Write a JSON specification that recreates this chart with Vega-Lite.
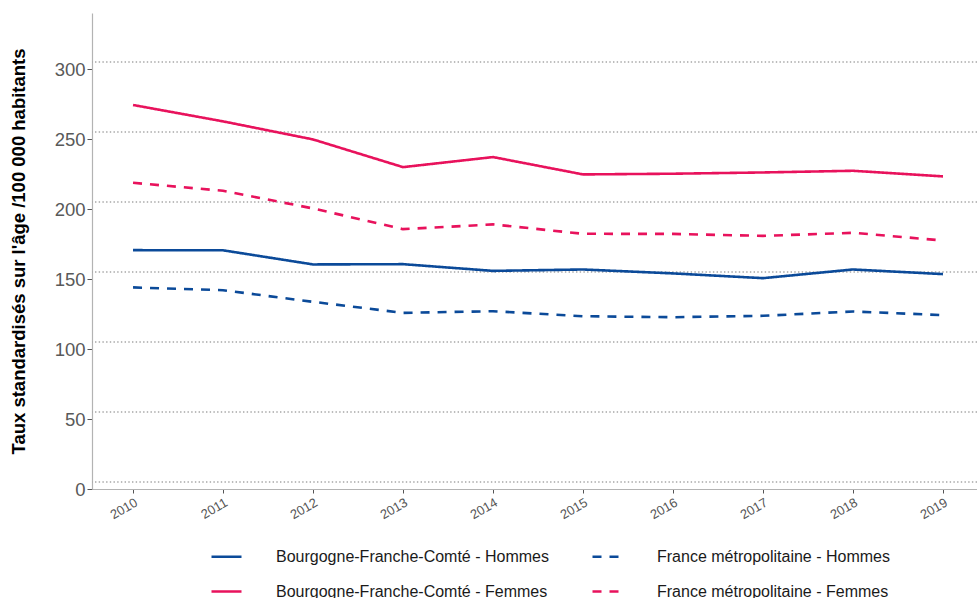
{
  "$schema": "https://vega.github.io/schema/vega-lite/v6.json",
  "width": 885,
  "height": 476,
  "autosize": "none",
  "padding": {"left": 92, "top": 13, "right": 0, "bottom": 109},
  "background": "white",
  "config": {
    "view": {"stroke": null},
    "font": "Liberation Sans",
    "legend": {
      "orient": "none",
      "legendX": 118,
      "legendY": 527,
      "columns": 2,
      "title": null,
      "symbolType": "stroke",
      "symbolSize": 900,
      "symbolStrokeWidth": 2.6,
      "labelFont": "Liberation Sans",
      "labelFontSize": 16,
      "labelColor": "#1a1a1a",
      "labelOffset": 33,
      "labelLimit": 400,
      "columnPadding": 38,
      "rowPadding": 10
    }
  },
  "layer": [
    {
      "data": {"values": [{"g": 5}, {"g": 55}, {"g": 105}, {"g": 155}, {"g": 205}, {"g": 255}, {"g": 305}]},
      "mark": {"type": "rule", "color": "#a6a6a6", "strokeWidth": 1.4, "strokeDash": [1.4, 2.3]},
      "encoding": {
        "y": {"field": "g", "type": "quantitative", "title": "Taux standardisés sur l'âge /100 000 habitants"}
      }
    },
    {
      "data": {"values": [
        {"year": 2010, "serie": "Bourgogne-Franche-Comté - Femmes", "value": 274.3},
        {"year": 2011, "serie": "Bourgogne-Franche-Comté - Femmes", "value": 262.6},
        {"year": 2012, "serie": "Bourgogne-Franche-Comté - Femmes", "value": 249.7},
        {"year": 2013, "serie": "Bourgogne-Franche-Comté - Femmes", "value": 229.9},
        {"year": 2014, "serie": "Bourgogne-Franche-Comté - Femmes", "value": 237.1},
        {"year": 2015, "serie": "Bourgogne-Franche-Comté - Femmes", "value": 224.7},
        {"year": 2016, "serie": "Bourgogne-Franche-Comté - Femmes", "value": 225.2},
        {"year": 2017, "serie": "Bourgogne-Franche-Comté - Femmes", "value": 226.1},
        {"year": 2018, "serie": "Bourgogne-Franche-Comté - Femmes", "value": 227.3},
        {"year": 2019, "serie": "Bourgogne-Franche-Comté - Femmes", "value": 223.3},
        {"year": 2010, "serie": "France métropolitaine - Femmes", "value": 218.7},
        {"year": 2011, "serie": "France métropolitaine - Femmes", "value": 213.0},
        {"year": 2012, "serie": "France métropolitaine - Femmes", "value": 200.4},
        {"year": 2013, "serie": "France métropolitaine - Femmes", "value": 185.6},
        {"year": 2014, "serie": "France métropolitaine - Femmes", "value": 189.0},
        {"year": 2015, "serie": "France métropolitaine - Femmes", "value": 182.3},
        {"year": 2016, "serie": "France métropolitaine - Femmes", "value": 182.2},
        {"year": 2017, "serie": "France métropolitaine - Femmes", "value": 180.8},
        {"year": 2018, "serie": "France métropolitaine - Femmes", "value": 183.0},
        {"year": 2019, "serie": "France métropolitaine - Femmes", "value": 177.5},
        {"year": 2010, "serie": "Bourgogne-Franche-Comté - Hommes", "value": 170.6},
        {"year": 2011, "serie": "Bourgogne-Franche-Comté - Hommes", "value": 170.5},
        {"year": 2012, "serie": "Bourgogne-Franche-Comté - Hommes", "value": 160.4},
        {"year": 2013, "serie": "Bourgogne-Franche-Comté - Hommes", "value": 160.6},
        {"year": 2014, "serie": "Bourgogne-Franche-Comté - Hommes", "value": 155.8},
        {"year": 2015, "serie": "Bourgogne-Franche-Comté - Hommes", "value": 156.8},
        {"year": 2016, "serie": "Bourgogne-Franche-Comté - Hommes", "value": 154.0},
        {"year": 2017, "serie": "Bourgogne-Franche-Comté - Hommes", "value": 150.6},
        {"year": 2018, "serie": "Bourgogne-Franche-Comté - Hommes", "value": 156.8},
        {"year": 2019, "serie": "Bourgogne-Franche-Comté - Hommes", "value": 153.5},
        {"year": 2010, "serie": "France métropolitaine - Hommes", "value": 144.0},
        {"year": 2011, "serie": "France métropolitaine - Hommes", "value": 142.0},
        {"year": 2012, "serie": "France métropolitaine - Hommes", "value": 133.7},
        {"year": 2013, "serie": "France métropolitaine - Hommes", "value": 125.8},
        {"year": 2014, "serie": "France métropolitaine - Hommes", "value": 127.0},
        {"year": 2015, "serie": "France métropolitaine - Hommes", "value": 123.4},
        {"year": 2016, "serie": "France métropolitaine - Hommes", "value": 122.7},
        {"year": 2017, "serie": "France métropolitaine - Hommes", "value": 123.7},
        {"year": 2018, "serie": "France métropolitaine - Hommes", "value": 126.8},
        {"year": 2019, "serie": "France métropolitaine - Hommes", "value": 124.2}
      ]},
      "mark": {"type": "line", "strokeWidth": 2.6, "strokeCap": "butt"},
      "encoding": {
        "x": {
          "field": "year", "type": "quantitative",
          "scale": {"domain": [2009.544, 2019.378], "nice": false, "zero": false},
          "axis": {
            "title": null,
            "values": [2010, 2011, 2012, 2013, 2014, 2015, 2016, 2017, 2018, 2019],
            "format": "d",
            "grid": false,
            "domainColor": "#b3b3b3",
            "domainWidth": 1.2,
            "tickColor": "#555555",
            "tickSize": 4,
            "tickWidth": 1,
            "labelAngle": -30,
            "labelAlign": "right",
            "labelBaseline": "top",
            "labelPadding": 3,
            "labelFont": "Liberation Sans",
            "labelFontSize": 13,
            "labelColor": "#555555"
          }
        },
        "y": {
          "field": "value", "type": "quantitative",
          "title": "Taux standardisés sur l'âge /100 000 habitants",
          "scale": {"domain": [0, 340], "nice": false},
          "axis": {
            "title": "Taux standardisés sur l'âge /100 000 habitants",
            "titleFont": "Liberation Sans",
            "titleFontSize": 18.5,
            "titleFontWeight": "bold",
            "titleColor": "#000000",
            "titlePadding": 26,
            "values": [0, 50, 100, 150, 200, 250, 300],
            "grid": false,
            "domainColor": "#b3b3b3",
            "domainWidth": 1.2,
            "tickColor": "#555555",
            "tickSize": 5,
            "labelPadding": 2,
            "labelFont": "Liberation Sans",
            "labelFontSize": 18.5,
            "labelColor": "#595959"
          }
        },
        "color": {
          "field": "serie", "type": "nominal",
          "scale": {
            "domain": ["Bourgogne-Franche-Comté - Hommes", "Bourgogne-Franche-Comté - Femmes", "France métropolitaine - Hommes", "France métropolitaine - Femmes"],
            "range": ["#0b4a99", "#e8125c", "#0b4a99", "#e8125c"]
          }
        },
        "strokeDash": {
          "field": "serie", "type": "nominal",
          "scale": {
            "domain": ["Bourgogne-Franche-Comté - Hommes", "Bourgogne-Franche-Comté - Femmes", "France métropolitaine - Hommes", "France métropolitaine - Femmes"],
            "range": [[1, 0], [1, 0], [9, 8], [9, 8]]
          }
        }
      }
    }
  ]
}
